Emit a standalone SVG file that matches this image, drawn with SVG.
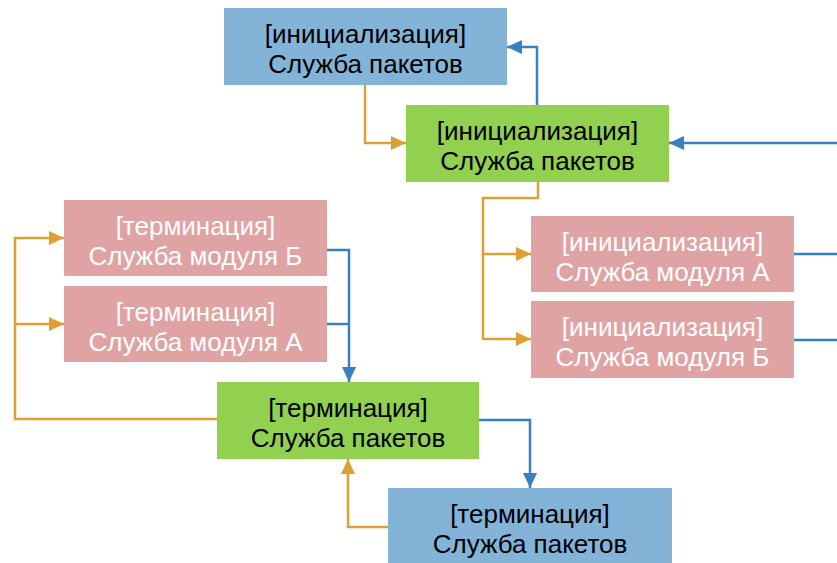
<svg xmlns="http://www.w3.org/2000/svg" width="837" height="563" viewBox="0 0 837 563">
<style>
.blue{fill:#84B3D8}
.green{fill:#92D050}
.pink{fill:#DFA3A4}
text{font-family:"Liberation Sans",Arial,sans-serif;font-size:26px;text-anchor:middle}
.dk{fill:#000}
.wt{fill:#fff}
.o{fill:none;stroke:#DEA033;stroke-width:2.5}
.b{fill:none;stroke:#3A80C0;stroke-width:2.5}
</style>
<defs>
<marker id="ao" markerUnits="userSpaceOnUse" markerWidth="16" markerHeight="14" refX="15" refY="7" orient="auto"><path d="M0,0 L15,7 L0,14 Z" fill="#DEA033"/></marker>
<marker id="ab" markerUnits="userSpaceOnUse" markerWidth="16" markerHeight="14" refX="15" refY="7" orient="auto"><path d="M0,0 L15,7 L0,14 Z" fill="#3A80C0"/></marker>
</defs>
<g id="connectors">
<path class="o" d="M365,85 V143 H406" marker-end="url(#ao)"/>
<path class="b" d="M537,105 V47 H507" marker-end="url(#ab)"/>
<path class="b" d="M837,143 H669" marker-end="url(#ab)"/>
<path class="o" d="M538,182 V198 H483 V254 H531" marker-end="url(#ao)"/>
<path class="o" d="M483,254 V339 H531" marker-end="url(#ao)"/>
<path class="b" d="M794,254 H837"/>
<path class="b" d="M794,340 H837"/>
<path class="b" d="M327,250 H349 V382" marker-end="url(#ab)"/>
<path class="b" d="M327,324 H349"/>
<path class="o" d="M217,419 H15 V238 H64" marker-end="url(#ao)"/>
<path class="o" d="M15,324 H64" marker-end="url(#ao)"/>
<path class="b" d="M479,420 H530 V488" marker-end="url(#ab)"/>
<path class="o" d="M388,527 H348 V459" marker-end="url(#ao)"/>
</g>
<g id="init-packet-top">
<rect class="blue" x="224" y="8" width="283" height="77"/>
<text class="dk" x="365.5" y="43">[инициализация]</text>
<text class="dk" x="365.5" y="73">Служба пакетов</text>
</g>
<g id="init-packet">
<rect class="green" x="406" y="105" width="263" height="77"/>
<text class="dk" x="537.5" y="140">[инициализация]</text>
<text class="dk" x="537.5" y="170">Служба пакетов</text>
</g>
<g id="init-module-a">
<rect class="pink" x="531" y="216" width="263" height="76"/>
<text class="wt" x="662.5" y="251">[инициализация]</text>
<text class="wt" x="662.5" y="281">Служба модуля А</text>
</g>
<g id="init-module-b">
<rect class="pink" x="531" y="301" width="263" height="77"/>
<text class="wt" x="662.5" y="336">[инициализация]</text>
<text class="wt" x="662.5" y="366">Служба модуля Б</text>
</g>
<g id="term-module-b">
<rect class="pink" x="64" y="200" width="263" height="76"/>
<text class="wt" x="195.5" y="235">[терминация]</text>
<text class="wt" x="195.5" y="265">Служба модуля Б</text>
</g>
<g id="term-module-a">
<rect class="pink" x="64" y="286" width="263" height="76"/>
<text class="wt" x="195.5" y="321">[терминация]</text>
<text class="wt" x="195.5" y="351">Служба модуля А</text>
</g>
<g id="term-packet">
<rect class="green" x="217" y="382" width="262" height="77"/>
<text class="dk" x="348" y="417">[терминация]</text>
<text class="dk" x="348" y="447">Служба пакетов</text>
</g>
<g id="term-packet-bottom">
<rect class="blue" x="388" y="488" width="284" height="76"/>
<text class="dk" x="530" y="523">[терминация]</text>
<text class="dk" x="530" y="553">Служба пакетов</text>
</g>
</svg>
